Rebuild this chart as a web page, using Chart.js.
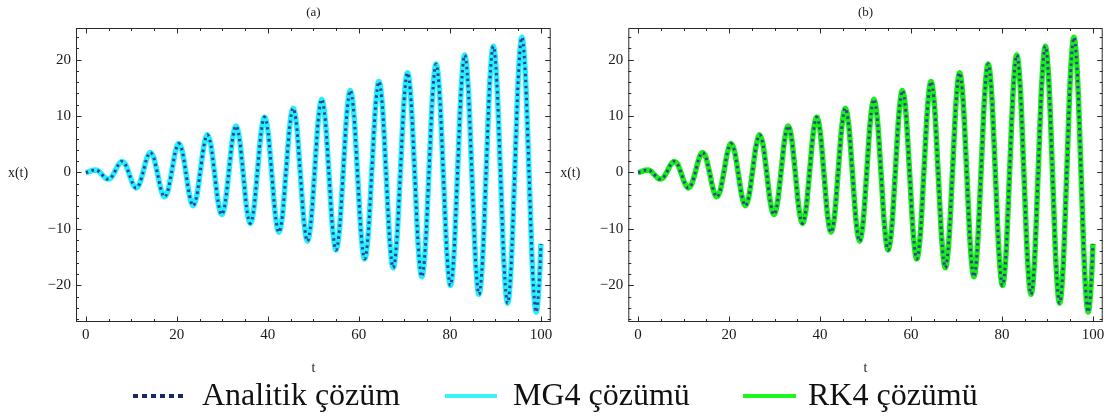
<!DOCTYPE html>
<html>
<head>
<meta charset="utf-8">
<script src="https://cdn.jsdelivr.net/npm/chart.js@4.4.1/dist/chart.umd.min.js"></script>
<style>
  body { margin: 0; background: #fff; }
  #page { position: relative; width: 1119px; height: 418px; overflow: hidden; background: #fff; }
  .panel { position: absolute; top: 0; height: 418px; }
  .legend-text { position: absolute; top: 378px; font: 32px/32px "Liberation Serif", "Times New Roman", serif; color: #111; white-space: nowrap; }
  .legend-line { position: absolute; }
</style>
</head>
<body>
<div id="page">
  <div class="panel" style="left:0;width:560px"><canvas id="chartA"></canvas></div>
  <div class="panel" style="left:555px;width:564px"><canvas id="chartB"></canvas></div>

  <!-- legend under both panels -->
  <div class="legend-line" style="left:133px;top:394px;width:53px;height:4px;background:repeating-linear-gradient(to right,#16286a 0 5px,transparent 5px 9px)"></div>
  <div class="legend-text" style="left:202px">Analitik çözüm</div>
  <div class="legend-line" style="left:445px;top:394px;width:52px;height:4px;background:#3ef0fb"></div>
  <div class="legend-text" style="left:513px">MG4 çözümü</div>
  <div class="legend-line" style="left:743px;top:394px;width:53px;height:4px;background:#1ef51e"></div>
  <div class="legend-text" style="left:808px">RK4 çözümü</div>
</div>

<script>
// time samples (eighth of a period)
const tValues = [0, 0.79, 1.57, 2.36, 3.14, 3.93, 4.71, 5.50, 6.28, 7.07, 7.85, 8.64, 9.42, 10.21, 11.00, 11.78,
  12.57, 13.35, 14.14, 14.92, 15.71, 16.49, 17.28, 18.06, 18.85, 19.63, 20.42, 21.21, 21.99, 22.78, 23.56, 24.35,
  25.13, 25.92, 26.70, 27.49, 28.27, 29.06, 29.85, 30.63, 31.42, 32.20, 32.99, 33.77, 34.56, 35.34, 36.13, 36.91,
  37.70, 38.48, 39.27, 40.06, 40.84, 41.63, 42.41, 43.20, 43.98, 44.77, 45.55, 46.34, 47.12, 47.91, 48.69, 49.48,
  50.27, 51.05, 51.84, 52.62, 53.41, 54.19, 54.98, 55.76, 56.55, 57.33, 58.12, 58.90, 59.69, 60.48, 61.26, 62.05,
  62.83, 63.62, 64.40, 65.19, 65.97, 66.76, 67.54, 68.33, 69.12, 69.90, 70.69, 71.47, 72.26, 73.04, 73.83, 74.61,
  75.40, 76.18, 76.97, 77.75, 78.54, 79.33, 80.11, 80.90, 81.68, 82.47, 83.25, 84.04, 84.82, 85.61, 86.39, 87.18,
  87.96, 88.75, 89.54, 90.32, 91.11, 91.89, 92.68, 93.46, 94.25, 95.03, 95.82, 96.60, 97.39, 98.17, 98.96, 99.75, 100];

// x(t) values at those times
const xAnalytic = [0, 0.14, 0.39, 0.42, 0, -0.69, -1.18, -0.97, 0, 1.25, 1.96, 1.53, 0, -1.80, -2.75, -2.08,
  0, 2.36, 3.53, 2.64, 0, -2.92, -4.32, -3.19, 0, 3.47, 5.11, 3.75, 0, -4.03, -5.89, -4.30,
  0, 4.58, 6.68, 4.86, 0, -5.14, -7.46, -5.41, 0, 5.69, 8.25, 5.97, 0, -6.25, -9.03, -6.53,
  0, 6.80, 9.82, 7.08, 0, -7.36, -10.60, -7.64, 0, 7.91, 11.39, 8.19, 0, -8.47, -12.17, -8.75,
  0, 9.02, 12.96, 9.30, 0, -9.58, -13.74, -9.86, 0, 10.14, 14.53, 10.41, 0, -10.69, -15.32, -10.97,
  0, 11.25, 16.10, 11.52, 0, -11.80, -16.89, -12.08, 0, 12.36, 17.67, 12.63, 0, -12.91, -18.46, -13.19,
  0, 13.47, 19.24, 13.75, 0, -14.02, -20.03, -14.30, 0, 14.58, 20.81, 14.86, 0, -15.13, -21.60, -15.41,
  0, 15.69, 22.38, 15.97, 0, -16.24, -23.17, -16.52, 0, 16.80, 23.95, 17.08, 0, -17.36, -24.74, -17.63, -12.66];

// numerical solutions lie on top of the analytic one at this scale
const xMG4 = xAnalytic.slice();
const xRK4 = xAnalytic.slice();

// axis ticks
const xTicks = [0, 20, 40, 60, 80, 100];
const yTicks = [-20, -10, 0, 10, 20];

document.addEventListener("DOMContentLoaded", () => {

  const serif = "'Liberation Serif', 'Times New Roman', serif";
  Chart.defaults.font.family = serif;
  Chart.defaults.color = "#1a1a1a";

  const toPoints = ys => tValues.map((t, i) => ({ x: t, y: ys[i] }));

// mathematica style frame: box with inward ticks on all four sides + axis texts
  const frameTicks = {
    id: "frameTicks",
    afterDraw(chart, args, opts) {
      const { ctx, chartArea: { left, right, top, bottom }, scales: { x, y } } = chart;
      ctx.save();
      ctx.strokeStyle = "#2a2a2a";
      ctx.lineWidth = 1;
      ctx.strokeRect(left + 0.5, top + 0.5, right - left - 1, bottom - top - 1);

      ctx.beginPath();
      for (let v = 0; v <= 100; v += 5) { // minor every 5, major every 20
        const px = Math.round(x.getPixelForValue(v)) + 0.5;
        const len = v % 20 === 0 ? 5.5 : 3;
        ctx.moveTo(px, bottom); ctx.lineTo(px, bottom - len);
        ctx.moveTo(px, top); ctx.lineTo(px, top + len);
      }
      for (let v = -26; v <= 24; v += 2) { // minor every 2, major every 10
        const py = Math.round(y.getPixelForValue(v)) + 0.5;
        const len = v % 10 === 0 ? 5.5 : 3;
        ctx.moveTo(left, py); ctx.lineTo(left + len, py);
        ctx.moveTo(right, py); ctx.lineTo(right - len, py);
      }
      ctx.stroke();

      ctx.fillStyle = "#1a1a1a";
      ctx.textAlign = "center";
      ctx.textBaseline = "middle";
      const cx = (left + right) / 2;
      ctx.font = "13px " + serif;
      ctx.fillText(opts.title, cx, 13);
      ctx.font = "14px " + serif;
      ctx.fillText("x(t)", left - 58, 173);
      ctx.fillText("t", cx, 368);
      ctx.restore();
    }
  };

  const makeChart = (id, title, numeric, numColor, yWidth, rightPad) => {
    const ctx = document.getElementById(id).getContext("2d");
    return new Chart(ctx, {
      type: "line",
      data: {
        datasets: [
          {
            label: "Analitik çözüm", // dotted, drawn on top
            data: toPoints(xAnalytic),
            borderColor: "#3a3d9c",
            borderWidth: 3,
            borderDash: [2.5, 3.5],
            pointRadius: 0,
            cubicInterpolationMode: "monotone",
            order: 0
          },
          {
            label: "numeric",
            data: toPoints(numeric),
            borderColor: numColor,
            borderWidth: 5.5,
            pointRadius: 0,
            cubicInterpolationMode: "monotone",
            order: 1
          }
        ]
      },
      options: {
        responsive: true,
        maintainAspectRatio: false,
        animation: false,
        events: [],
        layout: { padding: { top: 28, right: rightPad, bottom: 0, left: 0 } },
        plugins: {
          legend: { display: false },
          tooltip: { enabled: false },
          frameTicks: { title }
        },
        scales: {
          x: {
            type: "linear",
            min: -2.15,
            max: 102.15,
            grid: { display: false, drawTicks: false },
            border: { display: false },
            afterBuildTicks: s => { s.ticks = xTicks.map(v => ({ value: v })); },
            afterFit: s => { s.height = 96; s.paddingLeft = 0; s.paddingRight = 0; },
            ticks: { font: { size: 15 }, padding: 4, maxRotation: 0, autoSkip: false }
          },
          y: {
            min: -26.5,
            max: 25.6,
            grid: { display: false, drawTicks: false },
            border: { display: false },
            afterBuildTicks: s => { s.ticks = yTicks.map(v => ({ value: v })); },
            afterFit: s => { s.width = yWidth; s.paddingTop = 0; s.paddingBottom = 0; },
            ticks: {
              font: { size: 15 },
              padding: 5,
              autoSkip: false,
              callback: v => v < 0 ? "\u2212" + Math.abs(v) : String(v)
            }
          }
        }
      },
      plugins: [frameTicks]
    });
  };

  makeChart("chartA", "(a)", xMG4, "#1ff2fc", 76, 9.3);
  makeChart("chartB", "(b)", xRK4, "#14f014", 73.3, 16.3);
});
</script>
</body>
</html>
